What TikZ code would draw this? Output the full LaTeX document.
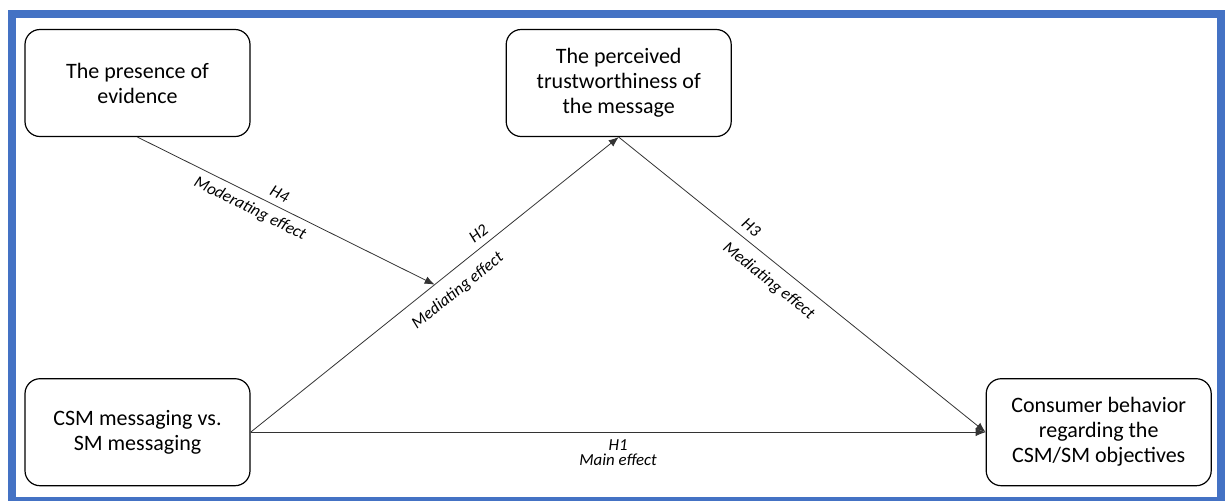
\documentclass[tikz,border=0pt]{standalone}
\usepackage{fontspec}
\setmainfont{Carlito}
\usepackage{xcolor}
\usetikzlibrary{positioning, arrows.meta}
\definecolor{frameblue}{HTML}{4472C4}
\tikzset{
    factor/.style={rectangle, draw=black, line width=0.6pt, rounded corners=7.5pt, fill=white, align=center, minimum width=112.5pt, minimum height=53.5pt, font=\fontsize{11}{12.5}\selectfont},
    effect/.style={-{Latex[length=5pt, width=4pt]}, draw=black!80, line width=0.4pt},
    hyp/.style={font=\fontsize{8.4}{7.5}\selectfont\itshape, sloped, align=center},
    frame/.style={draw=frameblue, line width=4pt}
}
\begin{document}
\begin{tikzpicture}[x=0.5pt, y=-0.5pt]
        \useasboundingbox (0,0) rectangle (1225,500);
        \draw[frame] (12,14) rectangle (1221,501);

        % Boxes
        \node[factor] (evidence) at (137.5,83) {The presence of\\evidence};
        \node[factor, right=127.5pt of evidence] (trust) {The perceived\\trustworthiness of\\the message};
        \node[factor, below=120.5pt of evidence] (messaging) {CSM messaging vs.\\SM messaging};
        \node[factor, right=367.5pt of messaging] (behavior) {Consumer behavior\\regarding the\\CSM/SM objectives};

        % Effects
        \draw[effect] (messaging.east) -- node[hyp, below] {H1\\Main effect} (behavior.west);
        \draw[effect] (messaging.east) -- coordinate[pos=0.5] (moderated)
            node[hyp, above, pos=0.64] {H2}
            node[hyp, below=2.5pt, pos=0.53] {Mediating effect} (trust.south);
        \draw[effect] (trust.south) --
            node[hyp, above, pos=0.34] {H3}
            node[hyp, below=2pt, pos=0.44] {Mediating effect} (behavior.west);
        \draw[effect] (evidence.south) --
            node[hyp, above, pos=0.46] {H4}
            node[hyp, below, pos=0.40] {Moderating effect} (moderated);
    \end{tikzpicture}
\end{document}
